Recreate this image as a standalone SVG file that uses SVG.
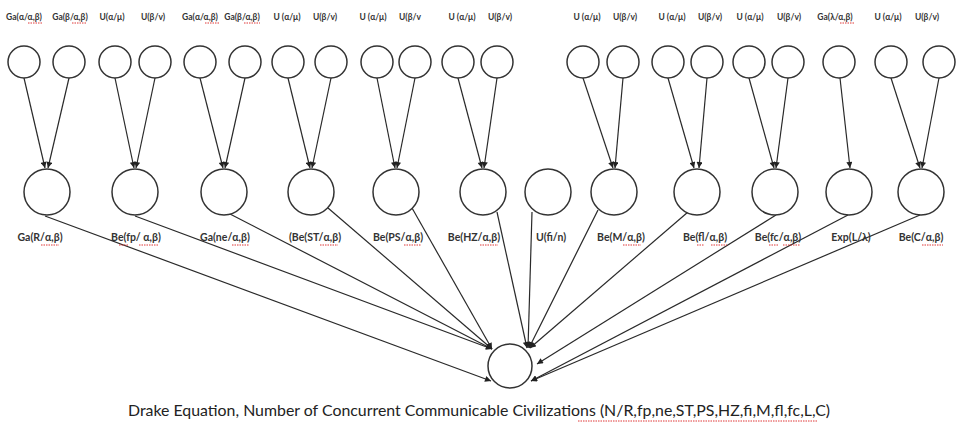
<svg xmlns="http://www.w3.org/2000/svg" width="956" height="438" viewBox="0 0 956 438">
<defs>
<marker id="ah" viewBox="0 0 10 10" refX="10" refY="5" markerWidth="7" markerHeight="6" markerUnits="userSpaceOnUse" orient="auto">
<path d="M0,0 L10,5 L0,10 z" fill="#222"/>
</marker>
<style>
.c{fill:#fff;stroke:#333;stroke-width:1.5}
.e{stroke:#2a2a2a;stroke-width:1.2;fill:none;marker-end:url(#ah)}
.t{font-family:Lato,"Open Sans","Liberation Sans",sans-serif;font-weight:bold;fill:#333;text-anchor:middle}
.top{font-size:8.5px}
.mid{font-size:10.5px}
.cap{font-family:Lato,"Open Sans","Liberation Sans",sans-serif;font-size:16px;fill:#222}
.sq{stroke:#d22;stroke-width:0.9;stroke-dasharray:1.5 1;fill:none}
</style>
</defs>
<rect width="956" height="438" fill="#fff"/>

<g id="connectors">
<line class="e" x1="24" y1="78" x2="45" y2="168"/>
<line class="e" x1="69" y1="78" x2="48" y2="168"/>
<line class="e" x1="115" y1="78" x2="134" y2="168"/>
<line class="e" x1="155" y1="78" x2="136" y2="168"/>
<line class="e" x1="200" y1="78" x2="223" y2="168"/>
<line class="e" x1="245" y1="78" x2="225" y2="168"/>
<line class="e" x1="288" y1="78" x2="310" y2="168"/>
<line class="e" x1="331" y1="78" x2="312" y2="168"/>
<line class="e" x1="377" y1="78" x2="395" y2="168"/>
<line class="e" x1="415" y1="78" x2="397" y2="168"/>
<line class="e" x1="458" y1="78" x2="482" y2="168"/>
<line class="e" x1="497" y1="78" x2="484" y2="168"/>
<line class="e" x1="583" y1="78" x2="613" y2="168"/>
<line class="e" x1="623" y1="78" x2="615" y2="168"/>
<line class="e" x1="668" y1="78" x2="694" y2="168"/>
<line class="e" x1="707" y1="78" x2="699" y2="168"/>
<line class="e" x1="749" y1="78" x2="774" y2="168"/>
<line class="e" x1="788" y1="78" x2="776" y2="168"/>
<line class="e" x1="840" y1="78" x2="850" y2="168"/>
<line class="e" x1="891" y1="78" x2="920" y2="168"/>
<line class="e" x1="939" y1="78" x2="922" y2="168"/>

<line class="e" x1="45" y1="216" x2="491" y2="381"/>
<line class="e" x1="135" y1="216" x2="492" y2="349"/>
<line class="e" x1="230" y1="214" x2="492" y2="349"/>
<line class="e" x1="328" y1="208" x2="492" y2="349"/>
<line class="e" x1="412" y1="208" x2="492" y2="349"/>
<line class="e" x1="497" y1="212" x2="527" y2="348"/>
<line class="e" x1="532" y1="212" x2="528" y2="348"/>
<line class="e" x1="598" y1="210" x2="529" y2="348"/>
<line class="e" x1="688" y1="212" x2="530" y2="348"/>
<line class="e" x1="776" y1="215" x2="537" y2="364"/>
<line class="e" x1="848" y1="215" x2="531" y2="381"/>
<line class="e" x1="920" y1="215" x2="531" y2="381"/>
</g>

<g id="n_R_a"><circle class="c" cx="24" cy="62" r="16"/><text class="t top" x="24" y="20">Ga(α/α,β)</text><path class="sq" d="M28,23 H42"/></g>
<g id="n_R_b"><circle class="c" cx="69" cy="62" r="16"/><text class="t top" x="70" y="20">Ga(β/α,β)</text><path class="sq" d="M72,23 H87"/></g>
<g id="n_fp_a"><circle class="c" cx="115" cy="62" r="16"/><text class="t top" x="112" y="20">U(α/μ)</text></g>
<g id="n_fp_b"><circle class="c" cx="155" cy="62" r="16"/><text class="t top" x="153" y="20">U(β/v)</text></g>
<g id="n_ne_a"><circle class="c" cx="200" cy="62" r="16"/><text class="t top" x="200" y="20">Ga(α/α,β)</text><path class="sq" d="M205,23 H220"/></g>
<g id="n_ne_b"><circle class="c" cx="245" cy="62" r="16"/><text class="t top" x="242" y="20">Ga(β/α,β)</text><path class="sq" d="M244,23 H260"/></g>
<g id="n_ST_a"><circle class="c" cx="288" cy="62" r="16"/><text class="t top" x="287" y="20">U (α/μ)</text></g>
<g id="n_ST_b"><circle class="c" cx="331" cy="62" r="16"/><text class="t top" x="325" y="20">U(β/v)</text></g>
<g id="n_PS_a"><circle class="c" cx="377" cy="62" r="16"/><text class="t top" x="373" y="20">U (α/μ)</text></g>
<g id="n_PS_b"><circle class="c" cx="415" cy="62" r="16"/><text class="t top" x="410" y="20">U(β/v</text></g>
<g id="n_HZ_a"><circle class="c" cx="458" cy="62" r="16"/><text class="t top" x="462" y="20">U (α/μ)</text></g>
<g id="n_HZ_b"><circle class="c" cx="497" cy="62" r="16"/><text class="t top" x="500" y="20">U(β/v)</text></g>
<g id="n_M_a"><circle class="c" cx="583" cy="62" r="16"/><text class="t top" x="587" y="20">U (α/μ)</text></g>
<g id="n_M_b"><circle class="c" cx="623" cy="62" r="16"/><text class="t top" x="625" y="20">U(β/v)</text></g>
<g id="n_fl_a"><circle class="c" cx="668" cy="62" r="16"/><text class="t top" x="672" y="20">U (α/μ)</text></g>
<g id="n_fl_b"><circle class="c" cx="707" cy="62" r="16"/><text class="t top" x="710" y="20">U(β/v)</text></g>
<g id="n_fc_a"><circle class="c" cx="749" cy="62" r="16"/><text class="t top" x="750" y="20">U (α/μ)</text></g>
<g id="n_fc_b"><circle class="c" cx="788" cy="62" r="16"/><text class="t top" x="789" y="20">U(β/v)</text></g>
<g id="n_L_a"><circle class="c" cx="839" cy="62" r="16"/><text class="t top" x="835" y="20">Ga(λ/α,β)</text><path class="sq" d="M840,23 H855"/></g>
<g id="n_C_a"><circle class="c" cx="891" cy="62" r="16"/><text class="t top" x="888" y="20">U (α/μ)</text></g>
<g id="n_C_b"><circle class="c" cx="939" cy="62" r="16"/><text class="t top" x="927" y="20">U(β/v)</text></g>

<g id="n_R"><circle class="c" cx="47" cy="192" r="23"/><text class="t mid" x="40" y="241">Ga(R/α,β)</text><path class="sq" d="M41,245 H59"/></g>
<g id="n_fp"><circle class="c" cx="135" cy="192" r="23"/><text class="t mid" x="136" y="241">Be(fp/ α,β)</text><path class="sq" d="M119,245 H129 M139,245 H158"/></g>
<g id="n_ne"><circle class="c" cx="224" cy="192" r="23"/><text class="t mid" x="225" y="241">Ga(ne/α,β)</text><path class="sq" d="M232,245 H249"/></g>
<g id="n_ST"><circle class="c" cx="311" cy="192" r="23"/><text class="t mid" x="315" y="241">(Be(ST/α,β)</text><path class="sq" d="M320,245 H338"/></g>
<g id="n_PS"><circle class="c" cx="396" cy="192" r="23"/><text class="t mid" x="398" y="241">Be(PS/α,β)</text><path class="sq" d="M404,245 H421"/></g>
<g id="n_HZ"><circle class="c" cx="483" cy="192" r="23"/><text class="t mid" x="474" y="241">Be(HZ/α,β)</text><path class="sq" d="M480,245 H498"/></g>
<g id="n_fi"><circle class="c" cx="548" cy="192" r="23"/><text class="t mid" x="551" y="241">U(fi/n)</text></g>
<g id="n_M"><circle class="c" cx="614" cy="192" r="23"/><text class="t mid" x="621" y="241">Be(M/α,β)</text><path class="sq" d="M623,245 H641"/></g>
<g id="n_fl"><circle class="c" cx="697" cy="192" r="23"/><text class="t mid" x="705" y="241">Be(fl/α,β)</text><path class="sq" d="M697,245 H704 M711,245 H727"/></g>
<g id="n_fc"><circle class="c" cx="775" cy="192" r="23"/><text class="t mid" x="778" y="241">Be(fc/α,β)</text><path class="sq" d="M769,245 H778 M783,245 H800"/></g>
<g id="n_L"><circle class="c" cx="849" cy="192" r="23"/><text class="t mid" x="851" y="241">Exp(L/λ)</text></g>
<g id="n_C"><circle class="c" cx="921" cy="192" r="23"/><text class="t mid" x="921" y="241">Be(C/α,β)</text><path class="sq" d="M922,245 H943"/></g>

<g id="n_N"><circle class="c" cx="510" cy="366" r="22"/></g>

<g id="caption"><text class="cap" x="128" y="416" textLength="702" lengthAdjust="spacingAndGlyphs">Drake Equation, Number of Concurrent Communicable Civilizations (N/R,fp,ne,ST,PS,HZ,fi,M,fl,fc,L,C)</text><path class="sq" d="M578,421 H818"/></g>
</svg>
